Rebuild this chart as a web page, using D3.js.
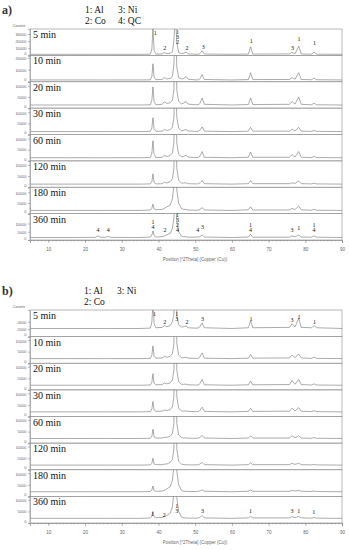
<!DOCTYPE html>
<html>
<head>
<meta charset="utf-8">
<script src="https://cdn.jsdelivr.net/npm/d3@7"></script>
<style>
  body { margin: 0; background: #fff; }
  svg { display: block; }
  .tick text { font-family: "Liberation Sans", sans-serif; }
</style>
</head>
<body>
<div id="chart"></div>
<script>
// XRD patterns, counts at a shared 2θ grid
const twoTheta = [5, 15, 22.8, 23.5, 24.2, 25.6, 26.3, 27.0, 35, 37.8, 38.2, 38.5, 38.8, 39.3,
  41.0, 41.6, 42.3, 43.2, 43.8, 44.2, 44.6, 45.0, 45.5, 46.3, 46.9, 47.5, 48.1,
  50.0, 50.5, 51.0, 51.3, 51.9, 52.5, 60, 64.5, 65.1, 65.7, 75.7, 76.4, 77.2, 78.2, 78.9,
  81.7, 82.4, 83.1, 90];

const timeLabels = ["5 min", "10 min", "20 min", "30 min", "60 min", "120 min", "180 min", "360 min"];

const countsA = [
  [1500,1500,1500,1500,1500,1500,1500,1500, 1500,1600,9000,38000,7000,1700, 2000,4000,2500,3000,5000,20000,60000,18000,4000,2500, 3000,4500,2200, 1600,1600,1700,2500,6500,1900, 1500,1800,12000,1800, 2000,4500,2200,13000,2000, 1700,4500,1700,1500],
  [1500,1500,1500,1500,1500,1500,1500,1500, 1500,1600,4500,15000,4000,1700, 2000,3500,2300,2800,4500,14000,55000,12000,3500,2300, 2800,4500,2100, 1600,1600,1700,2500,6000,1900, 1500,1800,7500,1800, 1900,3500,2100,7500,1900, 1700,3000,1700,1500],
  [1400,1400,1400,1400,1400,1400,1400,1400, 1400,1500,3500,9500,3000,1500, 1700,2800,2100,2400,3500,8000,40000,8000,3000,1900, 2300,3000,1800, 1500,1500,1600,2200,4500,1700, 1400,1600,4500,1600, 1700,3000,1800,5000,1700, 1500,2200,1500,1400],
  [1300,1300,1300,1300,1300,1300,1300,1300, 1300,1400,3000,7500,2600,1400, 1500,2200,1800,2200,3300,7500,35000,7500,2800,1700, 1900,2200,1600, 1400,1400,1500,2000,3400,1500, 1300,1500,3200,1500, 1500,2400,1600,3200,1500, 1400,1800,1400,1300],
  [1400,1400,1400,1400,1400,1400,1400,1400, 1400,1500,3500,9000,3000,1500, 1600,2500,1900,2400,3500,8000,35000,8000,3000,1800, 2000,2500,1700, 1500,1500,1600,2200,4200,1600, 1400,1600,4000,1600, 1600,2800,1700,4200,1600, 1500,2000,1500,1400],
  [1400,1400,1400,1400,1400,1400,1400,1400, 1400,1500,2500,6000,2200,1500, 1600,2200,1900,2500,3800,8500,35000,8500,3200,1800, 1900,2000,1600, 1500,1500,1600,2000,3000,1600, 1400,1600,3000,1600, 1600,2000,1700,2800,1600, 1500,1800,1500,1400],
  [1500,1500,1500,1500,1500,1500,1500,1500, 1500,1700,2500,4500,2300,1800, 2000,2500,3200,4000,7000,13000,30000,11000,5000,2300, 2000,2000,1700, 1600,1600,1700,2000,2800,1700, 1500,1800,3200,1700, 1700,2500,1900,3600,1800, 1600,2000,1600,1500],
  [1500,1500,1600,2500,1700,1600,2200,1600, 1500,1800,3000,5500,2800,1800, 2000,2500,3200,4000,7000,13000,30000,11000,5000,2300, 2000,2000,1700, 1700,2000,1700,2000,3000,1800, 1500,1800,3500,1700, 1700,2500,1900,3000,1800, 1700,2500,1700,1500]
];

const countsB = [
  [2200,2200,2200,2200,2200,2200,2200,2200, 2200,2300,4000,9000,3500,2400, 2500,3000,2700,3000,4000,6000,20000,5500,3200,2600, 2700,2900,2400, 2300,2300,2400,2800,3700,2400, 2200,2400,4300,2400, 2500,3500,2600,5000,2500, 2400,3000,2400,2200],
  [2000,2000,2000,2000,2000,2000,2000,2000, 2000,2100,3500,7500,3000,2200, 2300,3000,2600,3000,4200,8500,40000,8500,3500,2400, 2400,2600,2200, 2100,2100,2200,2800,4500,2200, 2000,2200,3800,2200, 2300,3500,2400,4000,2300, 2100,2600,2100,2000],
  [2000,2000,2000,2000,2000,2000,2000,2000, 2000,2100,3300,7000,2900,2200, 2300,3000,2600,3000,4200,8500,40000,8500,3500,2400, 2400,2500,2200, 2100,2100,2200,2800,4500,2200, 2000,2200,3800,2200, 2300,4000,2400,4500,2300, 2100,2600,2100,2000],
  [2000,2000,2000,2000,2000,2000,2000,2000, 2000,2100,3200,6500,2800,2200, 2300,2800,2600,3000,4200,8500,40000,8500,3500,2400, 2300,2400,2200, 2100,2100,2200,2700,4000,2200, 2000,2200,3600,2200, 2300,3600,2400,3800,2300, 2100,2500,2100,2000],
  [2000,2000,2000,2000,2000,2000,2000,2000, 2000,2100,3000,6000,2700,2200, 2200,2500,2500,3000,4200,8500,40000,8500,3500,2400, 2200,2300,2100, 2100,2100,2200,2500,3300,2200, 2000,2200,3200,2200, 2200,3200,2300,3200,2200, 2100,2400,2100,2000],
  [2000,2000,2000,2000,2000,2000,2000,2000, 2000,2100,2800,5000,2500,2200, 2200,2400,2500,3200,4500,9000,40000,9000,3600,2400, 2200,2200,2100, 2100,2100,2200,2500,3200,2200, 2000,2200,3000,2200, 2200,2800,2300,2800,2200, 2100,2300,2100,2000],
  [2000,2000,2000,2000,2000,2000,2000,2000, 2000,2100,2700,4500,2500,2200, 2300,2600,3300,4200,7000,13000,30000,11000,5000,2500, 2200,2200,2100, 2100,2100,2200,2400,2800,2200, 2000,2200,2800,2200, 2200,2600,2300,2600,2200, 2100,2300,2100,2000],
  [2000,2000,2000,2000,2000,2000,2000,2000, 2000,2200,3000,5000,2700,2300, 2400,2800,3300,4200,7000,13000,30000,11000,5000,2500, 2200,2200,2100, 2100,2100,2200,2500,3200,2200, 2000,2200,2900,2200, 2200,2800,2300,2800,2200, 2100,2400,2100,2000]
];

// y-axis range and ticks per row
const yMaxA = [37000, 22000, 11800, 11800, 11800, 11800, 12400, 16000];
const yTicksA = [[0, 10000, 20000, 30000], [0, 10000, 20000], [0, 5000, 10000], [0, 5000, 10000],
  [0, 5000, 10000], [0, 5000, 10000], [0, 5000, 10000], [0, 5000, 10000]];
const yMaxB = [7200, 11500, 11500, 11500, 11500, 11500, 11500, 11500];
const yTicksB = [[0, 2000, 4000], [0, 5000, 10000], [0, 5000, 10000], [0, 5000, 10000],
  [0, 5000, 10000], [0, 5000, 10000], [0, 5000, 10000], [0, 5000, 10000]];

// peak marks: [2θ, counts of lowest line, lines from top to bottom]
const peaksA5 = [[39.1, 28600, ["1"]], [41.7, 8000, ["2"]], [45.2, 16000, ["1", "3", "2"]],
  [47.8, 6900, ["2"]], [52.2, 9000, ["3"]], [65.3, 17400, ["1"]], [76.5, 7600, ["3"]],
  [78.3, 20000, ["1"]], [82.5, 15000, ["1"]]];
const peaksA360 = [[23.5, 5000, ["4"]], [26.3, 5000, ["4"]], [38.5, 6800, ["1", "4"]],
  [41.8, 5000, ["2"]], [45.2, 5000, ["1", "3", "2", "4"]], [50.7, 5000, ["4"]], [52.0, 6800, ["3"]],
  [65.1, 5000, ["1", "4"]], [76.4, 5000, ["3"]], [78.2, 6200, ["1"]], [82.4, 5000, ["1", "4"]]];
const peaksB5 = [[38.9, 5600, ["1"]], [41.7, 3400, ["2"]], [45.0, 4200, ["1", "3"]],
  [47.8, 3400, ["2"]], [52.0, 4200, ["3"]], [65.2, 4200, ["1"]], [76.4, 3900, ["3"]],
  [78.3, 4700, ["1"]], [82.5, 3400, ["1"]]];
const peaksB360 = [[38.4, 3000, ["1"]], [41.6, 2600, ["2"]], [45.0, 4400, ["1", "3"]],
  [52.0, 4400, ["3"]], [65.1, 4400, ["1"]], [76.4, 4400, ["3"]], [78.2, 4400, ["1"]],
  [82.3, 4000, ["1"]]];

const xTicks = [10, 20, 30, 40, 50, 60, 70, 80, 90];
const xDomain = [5, 90];

const W = 349, H = 550;
const plotLeft = 30, plotRight = 342;

const svg = d3.select("#chart").append("svg")
  .attr("width", W).attr("height", H);

const x = d3.scaleLinear().domain(xDomain).range([plotLeft, plotRight]);

function drawPanel(p) {
  const g = svg.append("g");
  const rowH = (p.bottom - p.top) / p.counts.length;

  p.counts.forEach((vals, i) => {
    const y0 = p.top + i * rowH;
    const y1 = y0 + rowH;
    const y = d3.scaleLinear().domain([0, p.yMax[i]]).range([y1, y0]);
    const clipId = `${p.id}-clip-${i}`;

    g.append("clipPath").attr("id", clipId)
      .append("rect")
      .attr("x", plotLeft).attr("y", y0)
      .attr("width", plotRight - plotLeft).attr("height", rowH);

    g.append("rect")
      .attr("x", plotLeft).attr("y", y0)
      .attr("width", plotRight - plotLeft).attr("height", rowH)
      .attr("fill", "none")
      .attr("stroke", "#9a9a9a")
      .attr("stroke-width", 0.7);

    const line = d3.line()
      .x((d, j) => x(twoTheta[j]))
      .y(d => y(d));

    g.append("path")
      .datum(vals)
      .attr("clip-path", `url(#${clipId})`)
      .attr("fill", "none")
      .attr("stroke", "#666")
      .attr("stroke-width", 0.55)
      .attr("d", line);

    // y axis of the row; the 0 label is nudged up so it clears the next row's top label
    const ax = g.append("g")
      .attr("transform", `translate(${plotLeft},0)`)
      .call(d3.axisLeft(y).tickValues(p.yTicks[i]).tickSize(2).tickPadding(1.5)
        .tickFormat(d3.format("d")));
    ax.select(".domain").attr("stroke", "#9a9a9a").attr("stroke-width", 0.7);
    ax.selectAll(".tick line").attr("stroke", "#777").attr("stroke-width", 0.5);
    ax.selectAll(".tick text").attr("font-size", 4).attr("fill", "#666")
      .attr("dy", d => d === 0 ? "-0.2em" : (d === p.yTicks[i][p.yTicks[i].length - 1] ? "0.5em" : "0.32em"));

    g.append("text")
      .attr("x", plotLeft + 3).attr("y", y0 + 9)
      .attr("font-family", "'Liberation Serif', serif")
      .attr("font-size", 10)
      .attr("fill", "#111")
      .text(timeLabels[i]);

    const marks = p.peaks[i];
    if (marks) {
      marks.forEach(([pos, c, lines]) => {
        lines.forEach((s, k) => {
          g.append("text")
            .attr("font-family", "'Liberation Serif', serif")
            .attr("font-size", 6)
            .attr("fill", "#111")
            .attr("text-anchor", "middle")
            .attr("x", x(pos))
            .attr("y", y(c) - (lines.length - 1 - k) * 5)
            .text(s);
        });
      });
    }
  });

  // x axis: minor ticks every degree, labelled every 10
  const minor = g.append("g")
    .attr("transform", `translate(0,${p.bottom})`)
    .call(d3.axisBottom(x).tickValues(d3.range(6, 90, 1)).tickSize(1.5).tickFormat(""));
  minor.select(".domain").remove();
  minor.selectAll(".tick line").attr("stroke", "#888").attr("stroke-width", 0.4);

  const major = g.append("g")
    .attr("transform", `translate(0,${p.bottom})`)
    .call(d3.axisBottom(x).tickValues(xTicks).tickSize(3).tickPadding(5));
  major.select(".domain").attr("stroke", "#888").attr("stroke-width", 0.7);
  major.selectAll(".tick line").attr("stroke", "#777").attr("stroke-width", 0.5);
  major.selectAll(".tick text").attr("font-size", 4.5).attr("fill", "#666");

  g.append("text")
    .attr("x", 195).attr("y", p.bottom + 21)
    .attr("text-anchor", "middle")
    .attr("font-family", "'Liberation Sans', sans-serif")
    .attr("font-size", 4.5)
    .attr("fill", "#666")
    .text("Position [°2Theta] (Copper (Cu))");

  g.append("text")
    .attr("x", 19).attr("y", p.top - 2)
    .attr("text-anchor", "middle")
    .attr("font-family", "'Liberation Sans', sans-serif")
    .attr("font-size", 4)
    .attr("fill", "#666")
    .text("Counts");

  // panel letter and legend
  g.append("text")
    .attr("x", 2).attr("y", p.top - 15)
    .attr("font-family", "'Liberation Serif', serif")
    .attr("font-size", 12)
    .attr("font-weight", "bold")
    .attr("fill", "#333")
    .text(p.letter);

  p.legend.forEach(([lx, ly, s]) => {
    g.append("text")
      .attr("x", lx).attr("y", p.top + ly)
      .attr("font-family", "'Liberation Serif', serif")
      .attr("font-size", 9.5)
      .attr("fill", "#111")
      .text(s);
  });
}

drawPanel({
  id: "a", letter: "a)", top: 29, bottom: 240,
  counts: countsA, yMax: yMaxA, yTicks: yTicksA,
  peaks: { 0: peaksA5, 7: peaksA360 },
  legend: [[85, -16, "1: Al"], [118, -16, "3: Ni"], [85, -5, "2: Co"], [118, -5, "4: QC"]]
});

drawPanel({
  id: "b", letter: "b)", top: 310, bottom: 523,
  counts: countsB, yMax: yMaxB, yTicks: yTicksB,
  peaks: { 0: peaksB5, 7: peaksB360 },
  legend: [[84, -16, "1: Al"], [117, -16, "3: Ni"], [84, -5, "2: Co"]]
});
</script>
</body>
</html>
